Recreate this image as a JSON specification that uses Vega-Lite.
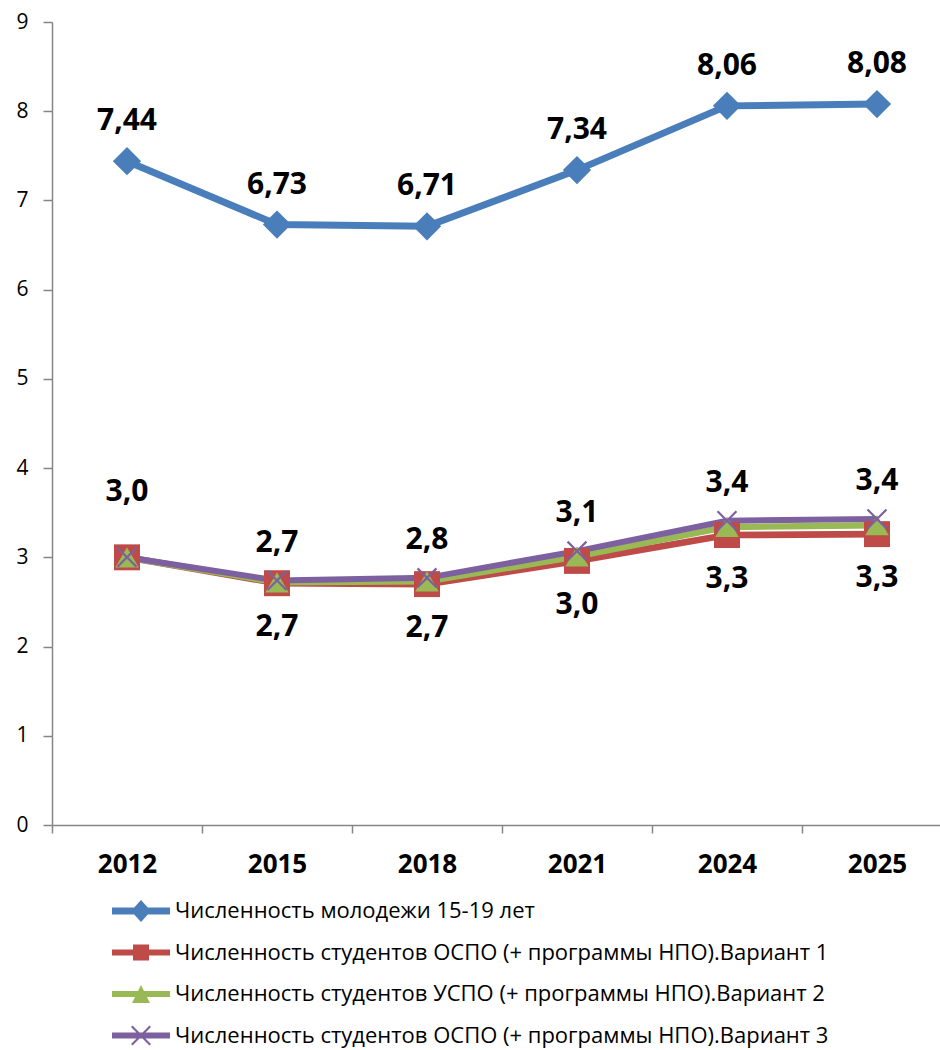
{
  "$schema": "https://vega.github.io/schema/vega-lite/v6.json",
  "width": 900,
  "height": 803,
  "autosize": "none",
  "padding": {"left": 52, "top": 22, "right": 0, "bottom": 225},
  "background": "white",
  "config": {
    "view": {"stroke": null},
    "font": "Open Sans",
    "locale": {"number": {"decimal": ",", "thousands": " ", "grouping": [3], "currency": ["", " ₽"]}},
    "legend": {
      "title": null, "orient": "none", "legendX": 78, "legendY": 878, "direction": "vertical",
      "padding": 0, "symbolSize": 400, "symbolStrokeWidth": 0, "rowPadding": 19.5,
      "labelOffset": 23, "labelFontSize": 22, "labelFont": "Open Sans", "labelColor": "#000000",
      "labelLimit": 900, "symbolOpacity": 1
    }
  },
  "resolve": {"scale": {"shape": "independent", "size": "independent"}, "legend": {"color": "independent", "shape": "independent"}},
  "data": {
    "values": [
      {"year": "2012", "series": "Численность молодежи 15-19 лет", "value": 7.44},
      {"year": "2015", "series": "Численность молодежи 15-19 лет", "value": 6.73},
      {"year": "2018", "series": "Численность молодежи 15-19 лет", "value": 6.71},
      {"year": "2021", "series": "Численность молодежи 15-19 лет", "value": 7.34},
      {"year": "2024", "series": "Численность молодежи 15-19 лет", "value": 8.06},
      {"year": "2025", "series": "Численность молодежи 15-19 лет", "value": 8.08},
      {"year": "2012", "series": "Численность студентов ОСПО  (+ программы НПО).Вариант 1", "value": 3.0},
      {"year": "2015", "series": "Численность студентов ОСПО  (+ программы НПО).Вариант 1", "value": 2.71},
      {"year": "2018", "series": "Численность студентов ОСПО  (+ программы НПО).Вариант 1", "value": 2.7},
      {"year": "2021", "series": "Численность студентов ОСПО  (+ программы НПО).Вариант 1", "value": 2.96},
      {"year": "2024", "series": "Численность студентов ОСПО  (+ программы НПО).Вариант 1", "value": 3.25},
      {"year": "2025", "series": "Численность студентов ОСПО  (+ программы НПО).Вариант 1", "value": 3.26},
      {"year": "2012", "series": "Численность студентов УСПО  (+ программы НПО).Вариант 2", "value": 3.0},
      {"year": "2015", "series": "Численность студентов УСПО  (+ программы НПО).Вариант 2", "value": 2.72},
      {"year": "2018", "series": "Численность студентов УСПО  (+ программы НПО).Вариант 2", "value": 2.73},
      {"year": "2021", "series": "Численность студентов УСПО  (+ программы НПО).Вариант 2", "value": 3.01},
      {"year": "2024", "series": "Численность студентов УСПО  (+ программы НПО).Вариант 2", "value": 3.34},
      {"year": "2025", "series": "Численность студентов УСПО  (+ программы НПО).Вариант 2", "value": 3.36},
      {"year": "2012", "series": "Численность студентов ОСПО  (+ программы НПО).Вариант 3", "value": 3.0},
      {"year": "2015", "series": "Численность студентов ОСПО  (+ программы НПО).Вариант 3", "value": 2.74},
      {"year": "2018", "series": "Численность студентов ОСПО  (+ программы НПО).Вариант 3", "value": 2.77},
      {"year": "2021", "series": "Численность студентов ОСПО  (+ программы НПО).Вариант 3", "value": 3.07},
      {"year": "2024", "series": "Численность студентов ОСПО  (+ программы НПО).Вариант 3", "value": 3.41},
      {"year": "2025", "series": "Численность студентов ОСПО  (+ программы НПО).Вариант 3", "value": 3.43}
    ]
  },
  "encoding": {
    "x": {
      "field": "year", "type": "ordinal",
      "scale": {"domain": ["2012", "2015", "2018", "2021", "2024", "2025"], "paddingInner": 0, "paddingOuter": 0},
      "axis": {
        "title": null, "labelAngle": 0, "tickBand": "extent",
        "domainColor": "#868686", "tickColor": "#868686", "domainWidth": 1.5, "tickWidth": 1.5,
        "tickSize": 8, "labelPadding": 18, "labelFontSize": 26, "labelFontWeight": "bold",
        "labelColor": "#000000", "labelFont": "Open Sans"
      }
    },
    "y": {
      "field": "value", "type": "quantitative",
      "scale": {"domain": [0, 9], "nice": false},
      "axis": {
        "title": null, "values": [0, 1, 2, 3, 4, 5, 6, 7, 8, 9], "grid": false,
        "domainColor": "#868686", "tickColor": "#868686", "domainWidth": 1.5, "tickWidth": 1.5,
        "tickSize": 9, "labelPadding": 15, "labelFontSize": 21, "labelColor": "#000000",
        "labelFont": "Open Sans", "format": "d"
      }
    }
  },
  "layer": [
    {
      "mark": {"type": "line"},
      "encoding": {
        "color": {
          "field": "series", "type": "nominal", "legend": null,
          "scale": {
            "domain": ["Численность молодежи 15-19 лет", "Численность студентов ОСПО  (+ программы НПО).Вариант 1", "Численность студентов УСПО  (+ программы НПО).Вариант 2", "Численность студентов ОСПО  (+ программы НПО).Вариант 3"],
            "range": ["#4A7EBB", "#BE4B48", "#98B954", "#7D60A0"]
          }
        },
        "strokeWidth": {
          "field": "series", "type": "nominal", "legend": null,
          "scale": {
            "domain": ["Численность молодежи 15-19 лет", "Численность студентов ОСПО  (+ программы НПО).Вариант 1", "Численность студентов УСПО  (+ программы НПО).Вариант 2", "Численность студентов ОСПО  (+ программы НПО).Вариант 3"],
            "range": [7, 6, 6, 6]
          }
        }
      }
    },
    {
      "mark": {"type": "point", "filled": true, "opacity": 1, "strokeWidth": 0},
      "encoding": {
        "color": {"field": "series", "type": "nominal", "legend": null},
        "shape": {
          "field": "series", "type": "nominal", "legend": null,
          "scale": {
            "domain": ["Численность молодежи 15-19 лет", "Численность студентов ОСПО  (+ программы НПО).Вариант 1", "Численность студентов УСПО  (+ программы НПО).Вариант 2", "Численность студентов ОСПО  (+ программы НПО).Вариант 3"],
            "range": ["diamond", "square", "triangle-up", "M-1,-0.85 L-0.85,-1 L0,-0.15 L0.85,-1 L1,-0.85 L0.15,0 L1,0.85 L0.85,1 L0,0.15 L-0.85,1 L-1,0.85 L-0.15,0 Z"]
          }
        },
        "size": {
          "field": "series", "type": "nominal", "legend": null,
          "scale": {
            "domain": ["Численность молодежи 15-19 лет", "Численность студентов ОСПО  (+ программы НПО).Вариант 1", "Численность студентов УСПО  (+ программы НПО).Вариант 2", "Численность студентов ОСПО  (+ программы НПО).Вариант 3"],
            "range": [800, 420, 420, 500]
          }
        }
      }
    },
    {
      "transform": [{"filter": "datum.year == 'legend-only'"}],
      "mark": {"type": "point", "filled": true, "opacity": 1, "strokeWidth": 0, "size": 400},
      "encoding": {
        "color": {"field": "series", "type": "nominal", "legend": {}},
        "shape": {
          "field": "series", "type": "nominal", "legend": {},
          "scale": {
            "domain": ["Численность молодежи 15-19 лет", "Численность студентов ОСПО  (+ программы НПО).Вариант 1", "Численность студентов УСПО  (+ программы НПО).Вариант 2", "Численность студентов ОСПО  (+ программы НПО).Вариант 3"],
            "range": [
              "M-2.9,-0.35 L-0.68,-0.35 L0,-1.1 L0.68,-0.35 L2.9,-0.35 L2.9,0.35 L0.68,0.35 L0,1.1 L-0.68,0.35 L-2.9,0.35 Z",
              "M-2.9,-0.3 L-0.8,-0.3 L-0.8,-0.8 L0.8,-0.8 L0.8,-0.3 L2.9,-0.3 L2.9,0.3 L0.8,0.3 L0.8,0.8 L-0.8,0.8 L-0.8,0.3 L-2.9,0.3 Z",
              "M-2.9,-0.3 L-0.3,-0.3 L0,-0.9 L0.3,-0.3 L2.9,-0.3 L2.9,0.3 L0.6,0.3 L0.9,0.9 L-0.9,0.9 L-0.6,0.3 L-2.9,0.3 Z",
              "M-2.9,-0.3 L2.9,-0.3 L2.9,0.3 L-2.9,0.3 Z M-1,-0.85 L-0.85,-1 L0,-0.15 L0.85,-1 L1,-0.85 L0.15,0 L1,0.85 L0.85,1 L0,0.15 L-0.85,1 L-1,0.85 L-0.15,0 Z"
            ]
          }
        }
      }
    },
    {
      "transform": [{"filter": "datum.series == 'Численность молодежи 15-19 лет'"}],
      "mark": {"type": "text", "dy": -40, "fontSize": 30, "fontWeight": "bold", "font": "Open Sans", "color": "#000000"},
      "encoding": {"text": {"field": "value", "type": "quantitative", "format": ".2f"}}
    },
    {
      "transform": [{"filter": "indexof(datum.series, 'Вариант 3') >= 0 && datum.year != '2012'"}],
      "mark": {"type": "text", "dy": -38, "fontSize": 30, "fontWeight": "bold", "font": "Open Sans", "color": "#000000"},
      "encoding": {"text": {"field": "value", "type": "quantitative", "format": ".1f"}}
    },
    {
      "transform": [{"filter": "indexof(datum.series, 'Вариант 3') >= 0 && datum.year == '2012'"}],
      "mark": {"type": "text", "dy": -65, "fontSize": 30, "fontWeight": "bold", "font": "Open Sans", "color": "#000000"},
      "encoding": {"text": {"field": "value", "type": "quantitative", "format": ".1f"}}
    },
    {
      "transform": [{"filter": "indexof(datum.series, 'Вариант 1') >= 0 && datum.year != '2012'"}],
      "mark": {"type": "text", "dy": 44, "fontSize": 30, "fontWeight": "bold", "font": "Open Sans", "color": "#000000"},
      "encoding": {"text": {"field": "value", "type": "quantitative", "format": ".1f"}}
    }
  ]
}
